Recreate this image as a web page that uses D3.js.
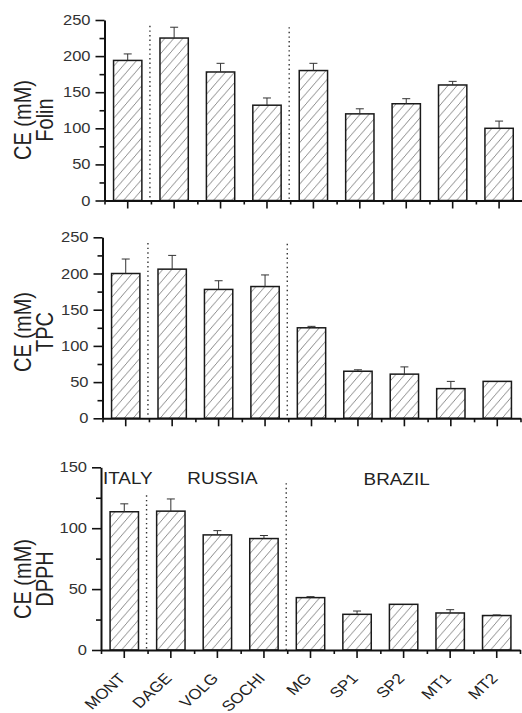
<!DOCTYPE html>
<html>
<head>
<meta charset="utf-8">
<script src="https://cdn.jsdelivr.net/npm/d3@7/dist/d3.min.js"></script>
<style>
  html, body { margin: 0; padding: 0; background: #fff; }
  svg { display: block; }
</style>
</head>
<body>
<svg id="chart" width="522" height="713"></svg>
<script>
// ---------- data ----------
const categories = ["MONT", "DAGE", "VOLG", "SOCHI", "MG", "SP1", "SP2", "MT1", "MT2"];
const folin    = [194, 225, 178, 132, 180, 120, 134, 160, 100];
const folinErr = [9, 15, 12, 10, 10, 7, 7, 5, 10];
const tpc      = [200, 206, 178, 182, 125, 65, 61, 41, 51];
const tpcErr   = [20, 19, 12, 16, 2, 2, 10, 10, 0];
const dpph     = [113.5, 114, 94.5, 91.5, 43, 29.3, 37.5, 30.4, 28.3];
const dpphErr  = [6.5, 10, 3.5, 2.5, 0.8, 2.7, 0, 2.7, 0.5];
const panelNames = ["Folin", "TPC", "DPPH"];
const yMaxes = [250, 250, 150];
const yTickSteps = [50, 50, 50];
const separatorTops = [[242, 240], [242, 241], [127, 137]];
const groupNames = ["ITALY", "RUSSIA", "BRAZIL"];
const yTitle = "CE (mM)";

// ---------- layout ----------
const layout = [
  { x0: 104.5, x1: 522.3, yTop: 20,    yBot: 200.5, tcy: 120 },
  { x0: 102.5, x1: 520.5, yTop: 237.3, yBot: 418.3, tcy: 332 },
  { x0: 101,   x1: 520,   yTop: 467.3, yBot: 650,   tcy: 579 }
];
const SX = 1.18; // horizontal stretch of the source image
const series = [folin, tpc, dpph];
const errs = [folinErr, tpcErr, dpphErr];

const svg = d3.select("#chart");
svg.attr("font-family", "'Liberation Sans', Arial, sans-serif");

// hatch pattern
const defs = svg.append("defs");
const pw = 9, ph = 10.4;
const pat = defs.append("pattern")
  .attr("id", "hatch").attr("patternUnits", "userSpaceOnUse")
  .attr("width", pw).attr("height", ph);
pat.append("rect").attr("width", pw).attr("height", ph).attr("fill", "#fff");
pat.append("path")
  .attr("d", `M0,${ph} L${pw},0 M${-pw},${ph} L0,0 M${pw},${2*ph} L${2*pw},${ph}`)
  .attr("stroke", "#6e6e6e").attr("stroke-width", 0.8);

function stretchedText(g, x, y, txt, opts) {
  const t = g.append("text")
    .attr("transform", `translate(${x},${y}) scale(${SX},1)` + (opts.rotate ? ` rotate(${opts.rotate})` : ""))
    .attr("text-anchor", opts.anchor || "start")
    .attr("font-size", opts.size)
    .attr("fill", opts.fill || "#222")
    .text(txt);
  if (opts.dy) t.attr("dy", opts.dy);
  return t;
}

series.forEach((vals, p) => {
  const L = layout[p];
  const g = svg.append("g");
  const x = d3.scaleBand().domain(categories).range([L.x0, L.x1])
    .paddingInner(0.39).paddingOuter(0.195);
  const xb = d3.scaleLinear().domain([0, categories.length]).range([L.x0, L.x1]);
  const y = d3.scaleLinear().domain([0, yMaxes[p]]).range([L.yBot, L.yTop]);
  const xc = c => x(c) + x.bandwidth() / 2;

  // bars
  g.selectAll("rect.bar").data(categories).join("rect")
    .attr("class", "bar")
    .attr("x", c => x(c))
    .attr("width", x.bandwidth())
    .attr("y", (c, i) => y(vals[i]))
    .attr("height", (c, i) => y(0) - y(vals[i]))
    .attr("fill", "url(#hatch)")
    .attr("stroke", "#1a1a1a").attr("stroke-width", 1.5);

  // error bars (upper only)
  const eb = g.append("g").attr("stroke", "#333").attr("stroke-width", 1);
  categories.forEach((c, i) => {
    const e = errs[p][i];
    if (!e) return;
    eb.append("line").attr("x1", xc(c)).attr("x2", xc(c))
      .attr("y1", y(vals[i])).attr("y2", y(vals[i] + e));
    eb.append("line").attr("x1", xc(c) - 4).attr("x2", xc(c) + 4)
      .attr("y1", y(vals[i] + e)).attr("y2", y(vals[i] + e));
  });

  // separators (dotted)
  [1, 4].forEach((bi, k) => {
    g.append("line")
      .attr("x1", xb(bi) - 1).attr("x2", xb(bi) - 1)
      .attr("y1", y(separatorTops[p][k])).attr("y2", y(0))
      .attr("stroke", "#333").attr("stroke-width", 1.4)
      .attr("stroke-dasharray", "1.4,3.2");
  });

  // y axis: major + minor ticks
  const yMajor = d3.range(0, yMaxes[p] + 1, yTickSteps[p]);
  const yMinor = d3.range(yTickSteps[p] / 2, yMaxes[p], yTickSteps[p]);
  g.append("g").attr("transform", `translate(${L.x0},0)`)
    .call(d3.axisLeft(y).tickValues(yMajor).tickSize(9).tickSizeOuter(0).tickFormat(""));
  g.append("g").attr("transform", `translate(${L.x0},0)`)
    .call(d3.axisLeft(y).tickValues(yMinor).tickSize(5).tickSizeOuter(0).tickFormat(""))
    .select(".domain").remove();
  // x axis: major ticks at centers, minor at boundaries
  g.append("g").attr("transform", `translate(0,${L.yBot})`)
    .call(d3.axisBottom(x).tickSize(8).tickSizeOuter(0).tickFormat(""));
  g.append("g").attr("transform", `translate(0,${L.yBot})`)
    .call(d3.axisBottom(xb).tickValues(d3.range(0, categories.length + 1)).tickSize(4).tickSizeOuter(0).tickFormat(""))
    .select(".domain").remove();
  g.selectAll(".domain").attr("stroke", "#111").attr("stroke-width", 2);
  g.selectAll(".tick line").attr("stroke", "#111").attr("stroke-width", 1.6);

  // y tick labels
  yMajor.forEach(v => {
    stretchedText(g, L.x0 - 14, y(v), String(v), { anchor: "end", size: 14, fill: "#333", dy: "0.36em" });
  });

  // y title (two lines)
  stretchedText(g, 31, L.tcy, yTitle, { anchor: "middle", size: 20, rotate: -90 });
  stretchedText(g, 53, L.tcy, panelNames[p], { anchor: "middle", size: 20, rotate: -90 });

  // bottom panel extras
  if (p === 2) {
    categories.forEach(c => {
      stretchedText(g, xc(c) + 2, L.yBot + 29, c, { anchor: "end", size: 14.5, rotate: -47 });
    });
    const gy = L.yBot - 166.5;
    stretchedText(g, L.x0 + 2, gy, groupNames[0], { anchor: "start", size: 16 });
    stretchedText(g, (xc("DAGE") + xc("SOCHI")) / 2 + 5, gy, groupNames[1], { anchor: "middle", size: 16 });
    stretchedText(g, (xc("MG") + xc("MT2")) / 2 - 7, gy + 1, groupNames[2], { anchor: "middle", size: 16 });
  }
});
</script>
</body>
</html>
